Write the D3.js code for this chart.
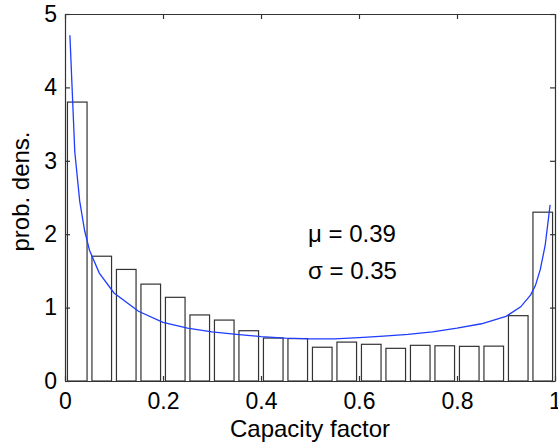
<!DOCTYPE html>
<html>
<head>
<meta charset="utf-8">
<script src="https://cdn.jsdelivr.net/npm/d3@7"></script>
<style>
    body { margin: 0; background: #fff; }
    svg text { font-family: "Liberation Sans", Arial, sans-serif; fill: #000; }
    .axis path, .axis line { stroke: #333; stroke-width: 1.2; }
</style>
</head>
<body>
<div id="chart"></div>
<script>
// histogram bin centres and densities
var binCenters = [0.025, 0.075, 0.125, 0.175, 0.225, 0.275, 0.325, 0.375, 0.425, 0.475,
                  0.525, 0.575, 0.625, 0.675, 0.725, 0.775, 0.825, 0.875, 0.925, 0.975];
var binDensity = [3.80, 1.70, 1.52, 1.32, 1.14, 0.90, 0.83, 0.685, 0.585, 0.578,
                  0.46, 0.53, 0.50, 0.445, 0.486, 0.48, 0.472, 0.475, 0.89, 2.30];

// fitted pdf, sampled points
var fitX = [0.01, 0.02, 0.03, 0.04, 0.05, 0.07, 0.10, 0.15, 0.20, 0.25, 0.30, 0.35, 0.40, 0.45,
            0.50, 0.55, 0.60, 0.65, 0.70, 0.75, 0.80, 0.85, 0.90, 0.93, 0.95, 0.96, 0.97, 0.98, 0.99];
var fitY = [4.71, 3.12, 2.45, 2.05, 1.78, 1.47, 1.20, 0.95, 0.80, 0.72, 0.67, 0.635, 0.605, 0.585,
            0.575, 0.575, 0.59, 0.61, 0.635, 0.67, 0.72, 0.78, 0.88, 1.01, 1.17, 1.30, 1.52, 1.85, 2.40];

var xTicks = [0, 0.2, 0.4, 0.6, 0.8, 1];
var yTicks = [0, 1, 2, 3, 4, 5];
var statLabels = ["\u03bc = 0.39", "\u03c3 = 0.35"];

var W = 558, H = 448,
    margin = {top: 14, right: 3, bottom: 67, left: 65},
    w = W - margin.left - margin.right,
    h = H - margin.top - margin.bottom,
    binWidth = 0.05, barFrac = 0.8;

var svg = d3.select("#chart").append("svg")
    .attr("width", W)
    .attr("height", H);
var g = svg.append("g")
    .attr("transform", "translate(" + margin.left + "," + margin.top + ")");

var x = d3.scaleLinear().domain([0, 1]).range([0, w]);
var y = d3.scaleLinear().domain([0, 5]).range([h, 0]);

// bars
g.selectAll("rect.bar")
    .data(binCenters)
    .enter().append("rect")
    .attr("class", "bar")
    .attr("x", function(d) { return x(d - binWidth * barFrac / 2); })
    .attr("width", function() { return x(binWidth * barFrac) - x(0); })
    .attr("y", function(d, i) { return y(binDensity[i]); })
    .attr("height", function(d, i) { return y(0) - y(binDensity[i]); })
    .attr("fill", "#fff")
    .attr("stroke", "#333")
    .attr("stroke-width", 1.2);

// fitted curve
var line = d3.line()
    .x(function(d, i) { return x(fitX[i]); })
    .y(function(d) { return y(d); });
g.append("path")
    .datum(fitY)
    .attr("d", line)
    .attr("fill", "none")
    .attr("stroke", "#1f3cff")
    .attr("stroke-width", 1.3);

// axes (box with inward ticks)
var fs = "23px", fmt = d3.format("~g");
g.append("g").attr("class", "axis")
    .attr("transform", "translate(0," + h + ")")
    .call(d3.axisBottom(x).tickValues(xTicks).tickFormat(fmt).tickSizeInner(-5).tickSizeOuter(0).tickPadding(12))
    .selectAll("text").style("font-size", fs);
g.append("g").attr("class", "axis")
    .call(d3.axisTop(x).tickValues(xTicks).tickSizeInner(-5).tickSizeOuter(0).tickFormat(""));
g.append("g").attr("class", "axis")
    .call(d3.axisLeft(y).tickValues(yTicks).tickFormat(fmt).tickSizeInner(-5).tickSizeOuter(0).tickPadding(8))
    .selectAll("text").style("font-size", fs);
g.append("g").attr("class", "axis")
    .attr("transform", "translate(" + w + ",0)")
    .call(d3.axisRight(y).tickValues(yTicks).tickSizeInner(-5).tickSizeOuter(0).tickFormat(""));

// axis labels
svg.append("text")
    .attr("x", margin.left + w / 2)
    .attr("y", 437)
    .attr("text-anchor", "middle")
    .style("font-size", "24px")
    .text("Capacity factor");
svg.append("text")
    .attr("transform", "translate(29," + (margin.top + h / 2 - 6) + ") rotate(-90)")
    .attr("text-anchor", "middle")
    .style("font-size", "24px")
    .text("prob. dens.");

// stats
g.selectAll("text.stat")
    .data(statLabels)
    .enter().append("text")
    .attr("class", "stat")
    .attr("x", 308 - margin.left)
    .attr("y", function(d, i) { return 242 - margin.top + i * 36.6; })
    .style("font-size", "24px")
    .text(function(d) { return d; });
</script>
</body>
</html>
